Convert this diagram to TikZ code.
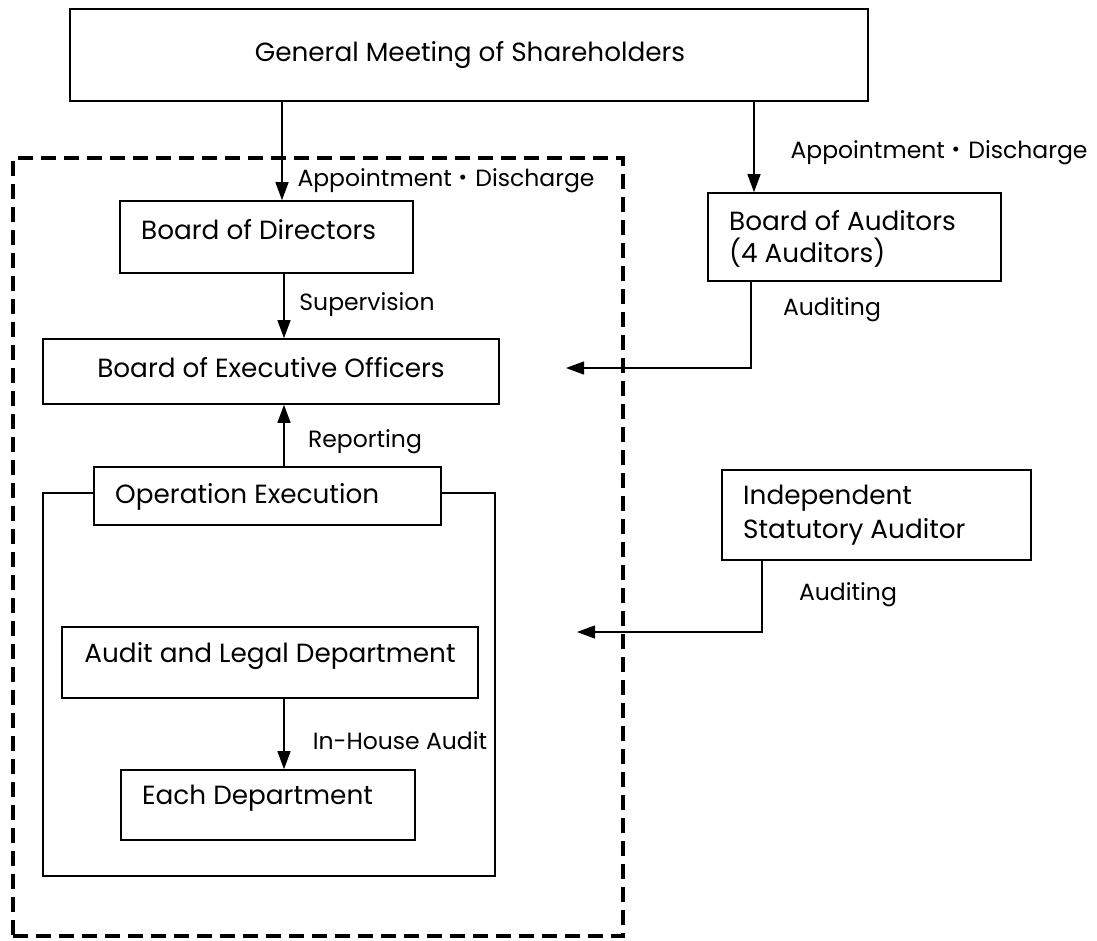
\documentclass[tikz,border=0pt]{standalone}
\usepackage{fontspec}
\setmainfont{Poppins}
\newfontfamily\cjk{Noto Sans CJK JP}
\usetikzlibrary{arrows.meta}
\tikzset{
  box/.style={draw, line width=1.6pt, fill=white, inner sep=0pt},
  txt/.style={inner sep=0pt, font=\fontsize{26.3}{30}\selectfont},
  lbl/.style={inner sep=0pt, font=\fontsize{23.5}{28}\selectfont},
  conn/.style={line width=1.2pt, -{Triangle[length=18pt,width=13pt]}},
  dashbox/.style={draw, line width=3.6pt, dash pattern=on 15pt off 8pt}
}
\newcommand{\bx}[5]{\node[box, minimum width={#4-#2}, minimum height={#5-#3}] (#1) at ({(#2+#4)/2},{(#3+#5)/2}) {};}
\begin{document}
\begin{tikzpicture}[x=1pt,y=-1pt]
\useasboundingbox (0,0) rectangle (1097,940);
% dashed frame
\node[dashbox, minimum width=610pt, minimum height=778pt, inner sep=0pt] (frame) at (318,547) {};
% boxes
\bx{gm}{70}{9}{868}{101}
\node[txt] (gmt) at (470,55) {General Meeting of Shareholders};
\bx{bod}{120}{201}{413}{273}
\node[txt, anchor=west] (bodt) at (141,230) {Board of Directors};
\bx{boa}{708}{193}{1001}{281}
\node[txt, anchor=west] (boat1) at (729,221) {Board of Auditors};
\node[txt, anchor=west] (boat2) at (729,253) {(4 Auditors)};
\bx{beo}{43}{339}{499}{404}
\node[txt] (beot) at (271,368) {Board of Executive Officers};
\bx{cont}{43}{493}{495}{876}
\bx{oe}{94}{467}{441}{525}
\node[txt, anchor=west] (oet) at (115,497) {Operation Execution};
\bx{isa}{722}{470}{1031}{560}
\node[txt, anchor=west] (isat1) at (743,498) {Independent};
\node[txt, anchor=west] (isat2) at (743,532) {Statutory Auditor};
\bx{ald}{62}{627}{478}{698}
\node[txt] (aldt) at (270,656) {Audit and Legal Department};
\bx{ed}{121}{770}{415}{840}
\node[txt, anchor=west] (edt) at (142,798) {Each Department};
% connectors
\draw[conn] (gm.south -| 282,0) -- (bod.north -| 282,0);
\draw[conn] (gm.south -| 754,0) -- (boa.north -| 754,0);
\draw[conn] (bod.south -| 284,0) -- (beo.north -| 284,0);
\draw[conn] (oe.north -| 284,0) -- (beo.south -| 284,0);
\draw[conn] (ald.south -| 284,0) -- (ed.north -| 284,0);
\coordinate (a1) at (566,368);
\coordinate (a2) at (577,632);
\draw[conn] (boa.south -| 751,0) |- (a1);
\draw[conn] (isa.south -| 762,0) |- (a2);
% labels
\node[lbl] (l1) at (939,153) {Appointment{\cjk ・}Discharge};
\node[lbl] (l2) at (446,181) {Appointment{\cjk ・}Discharge};
\node[lbl] (l3) at (367,305) {Supervision};
\node[lbl] (l4) at (832,310) {Auditing};
\node[lbl] (l5) at (365,442) {Reporting};
\node[lbl] (l6) at (848,595) {Auditing};
\node[lbl] (l7) at (400,741) {In-House Audit};
\end{tikzpicture}
\end{document}
